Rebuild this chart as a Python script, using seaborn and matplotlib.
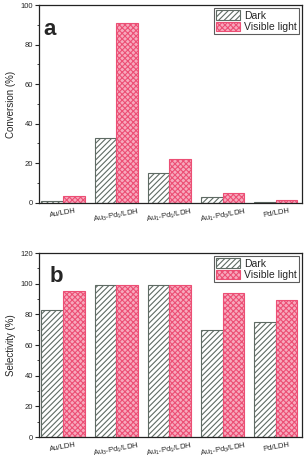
import matplotlib
matplotlib.use("Agg")
import matplotlib.pyplot as plt
import seaborn as sns
import pandas as pd
from matplotlib.ticker import MultipleLocator
from matplotlib.patches import Patch

sns.set_style("ticks")
plt.rcParams['font.family'] = ['Liberation Sans', 'DejaVu Sans']
plt.rcParams['mathtext.default'] = 'regular'
plt.rcParams['hatch.linewidth'] = 0.8

categories = ['Au/LDH', r'Au$_3$-Pd$_1$/LDH', r'Au$_1$-Pd$_1$/LDH', r'Au$_1$-Pd$_3$/LDH', 'Pd/LDH']
series = ['Dark', 'Visible light']
conv_dark = [0.7, 33.0, 15.0, 3.0, 0.4]
conv_light = [3.5, 91.0, 22.3, 5.2, 1.4]
sel_dark = [83.0, 99.0, 99.0, 70.0, 75.0]
sel_light = [95.0, 99.0, 99.0, 94.0, 89.5]

dark_edge = '#5f6b64'
pink_face = '#f7a9bd'
pink_edge = '#ec4f75'

def make_df(d, l):
    rows = []
    for c, v in zip(categories, d):
        rows.append({'cat': c, 'series': series[0], 'val': v})
    for c, v in zip(categories, l):
        rows.append({'cat': c, 'series': series[1], 'val': v})
    return pd.DataFrame(rows)

fig = plt.figure(figsize=(3.05, 4.62), dpi=100)
ax1 = fig.add_axes([0.128, 0.561, 0.862, 0.428])
ax2 = fig.add_axes([0.128, 0.054, 0.862, 0.398])

def draw(ax, d, l, ylim, ylabel, letter, lx):
    df = make_df(d, l)
    sns.barplot(data=df, x='cat', y='val', hue='series', order=categories,
                hue_order=series, width=0.81, ax=ax, legend=False,
                palette=['white', pink_face], errorbar=None)
    n = len(categories)
    for i, p in enumerate(ax.patches[:2 * n]):
        if i < n:
            p.set_facecolor('white')
            p.set_edgecolor(dark_edge)
            p.set_hatch('//////')
        else:
            p.set_facecolor(pink_face)
            p.set_edgecolor(pink_edge)
            p.set_hatch('xxxxxx')
        p.set_linewidth(0.8)
    ax.set_xlim(-0.45, 4.49)
    ax.set_ylim(*ylim)
    ax.yaxis.set_major_locator(MultipleLocator(20))
    ax.yaxis.set_minor_locator(MultipleLocator(10))
    ax.tick_params(axis='y', which='major', length=3, width=0.8, labelsize=5.5, pad=1.5, direction='out')
    ax.tick_params(axis='y', which='minor', length=1.8, width=0.6, direction='out')
    ax.tick_params(axis='x', length=0, labelsize=5.5, pad=3)
    for lab in ax.get_xticklabels():
        lab.set_rotation(10)
    ax.set_xlabel('')
    ax.set_ylabel(ylabel, fontsize=7, labelpad=3)
    for s in ax.spines.values():
        s.set_visible(True)
        s.set_linewidth(0.9)
        s.set_color('#222222')
    ax.text(lx, 0.93, letter, transform=ax.transAxes, fontsize=16,
            fontweight='bold', va='top', ha='left')
    handles = [Patch(facecolor='white', edgecolor=dark_edge, hatch='//////', linewidth=0.8),
               Patch(facecolor=pink_face, edgecolor=pink_edge, hatch='xxxxxx', linewidth=0.8)]
    leg = ax.legend(handles, series, loc='upper right', fontsize=7.5, frameon=True,
                    fancybox=False, edgecolor='#333333', borderaxespad=0.3,
                    handlelength=2.3, handleheight=1.0, handletextpad=0.4,
                    borderpad=0.2, labelspacing=0.1)
    leg.get_frame().set_linewidth(0.8)

draw(ax1, conv_dark, conv_light, (0, 100), 'Conversion (%)', 'a', 0.015)
draw(ax2, sel_dark, sel_light, (0, 120), 'Selectivity (%)', 'b', 0.04)

fig.savefig('out.png', dpi=100)
